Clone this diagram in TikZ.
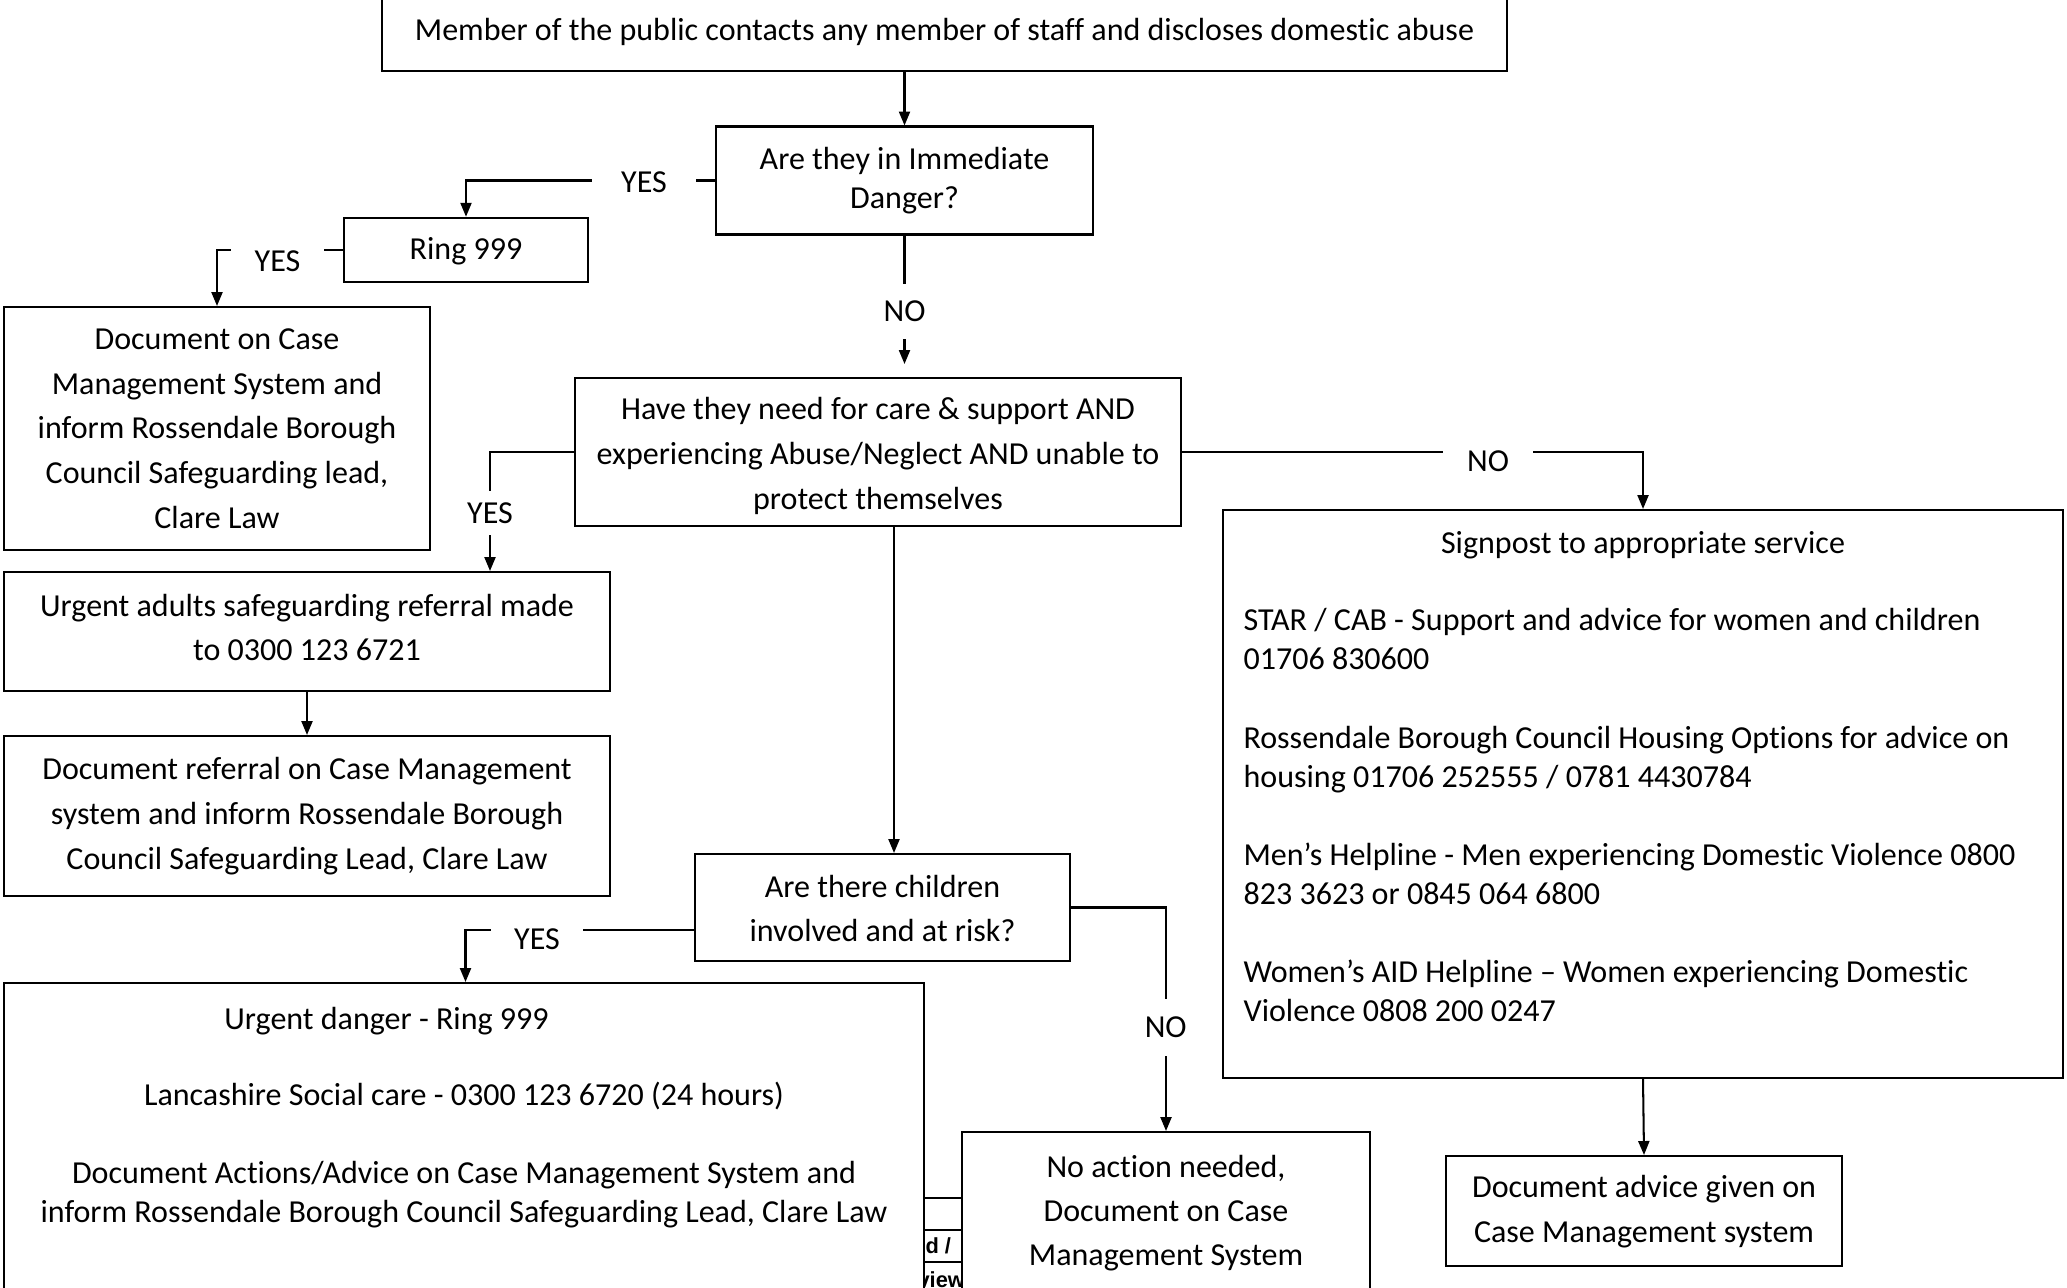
\documentclass[tikz,border=0pt]{standalone}
\usepackage{fontspec}
\setmainfont{Carlito}[Ligatures=NoCommon]
\newfontfamily\tablefont{Liberation Sans}
\usetikzlibrary{arrows.meta,calc}
\newlength\pxl
\setlength\pxl{0.3435pt}

\tikzset{
  box/.style={draw, line width=0.7pt, fill=white, inner sep=0pt},
  boxtxt/.style={inner sep=0pt, align=center, font=\fontsize{11}{15.35}\selectfont},
  txt/.style={inner sep=0pt, font=\fontsize{11}{13.43}\selectfont},
  wtxt/.style={inner sep=0pt, font=\fontsize{11}{15.2}\selectfont},
  conn/.style={line width=0.7pt, -{Triangle[length=4.8pt,width=3.8pt]}},
  lbl/.style={fill=white, inner sep=0pt, font=\fontsize{11}{13}\selectfont},
  gridline/.style={line width=0.5pt},
  fragtext/.style={inner sep=0pt, anchor=west, font=\tablefont\bfseries\fontsize{7.5}{9}\selectfont}
}

\begin{document}
\begin{tikzpicture}[x=0.3435pt, y=-0.3435pt]
\useasboundingbox (0,0) rectangle (2067,1287);
\clip (0,0) rectangle (2067,1287);

% pieces of an underlying table, mostly hidden by the boxes
\draw[gridline] (900,1198) -- (990,1198);
\draw[gridline] (900,1230) -- (990,1230);
\draw[gridline] (900,1262) -- (990,1262);
\node[fragtext] (fragA) at (925,1246) {d /};
\node[fragtext] (fragB) at (917,1280) {view};

% boxes
\node[box, minimum width=1125\pxl, minimum height=84\pxl] (top) at (944.5,29) {};
\node[box, minimum width=377\pxl, minimum height=108\pxl] (q1) at (904.5,180.5) {};
\node[box, minimum width=244\pxl, minimum height=64.5\pxl] (ring) at (466,250) {};
\node[box, minimum width=426\pxl, minimum height=243\pxl] (doc1) at (217,428.5) {};
\node[box, minimum width=606\pxl, minimum height=148\pxl] (q2) at (878,452) {};
\node[box, minimum width=606\pxl, minimum height=119\pxl] (urg) at (307,631.5) {};
\node[box, minimum width=606\pxl, minimum height=160\pxl] (docref) at (307,816) {};
\node[box, minimum width=375\pxl, minimum height=107\pxl] (q3) at (882.5,907.5) {};
\node[box, minimum width=920\pxl, minimum height=337\pxl] (big) at (464,1151.5) {};
\node[box, minimum width=408\pxl, minimum height=188\pxl] (noact) at (1166,1226) {};
\node[box, minimum width=840\pxl, minimum height=568\pxl] (sign) at (1643,794) {};
\node[box, minimum width=396\pxl, minimum height=109.5\pxl] (docadv) at (1644,1210.75) {};

% box texts
\node[boxtxt] (topt) at ($(top)+(0,3)$)
  {Member of the public contacts any member of staff and discloses domestic abuse};
\node[txt, align=center] (q1t) at (q1) {Are they in Immediate\\Danger?};
\node[boxtxt] (ringt) at ($(ring)+(0,1)$) {Ring 999};
\node[boxtxt] (doc1t) at (doc1)
  {Document on Case\\Management System and\\inform Rossendale Borough\\Council Safeguarding lead,\\Clare Law};
\node[boxtxt] (q2t) at ($(q2)+(0,4)$)
  {Have they need for care \& support AND\\experiencing Abuse/Neglect AND unable to\\protect themselves};
\node[boxtxt] (urgt) at ($(urg)+(0,-4)$)
  {Urgent adults safeguarding referral made\\to 0300 123 6721};
\node[boxtxt] (docreft) at (docref)
  {Document referral on Case Management\\system and inform Rossendale Borough\\Council Safeguarding Lead, Clare Law};
\node[boxtxt] (q3t) at ($(q3)+(0,1)$) {Are there children\\involved and at risk?};
\node[boxtxt] (docadvt) at ($(docadv)+(0,1)$) {Document advice given on\\Case Management system};

\node[txt] (bighead) at (386.5,1021) {Urgent danger - Ring 999};
\node[txt, align=center] (bigbody) at (464,1156)
  {\strut Lancashire Social care - 0300 123 6720 (24 hours)\\[13.43pt]
   Document Actions/Advice on Case Management System and\\
   inform Rossendale Borough Council Safeguarding Lead, Clare Law\strut};
\node[wtxt, align=center] (noacttext) at (1166,1212.5)
  {\strut No action needed,\\Document on Case\\Management System\strut};
\node[txt] (signhead) at (1643,545) {Signpost to appropriate service};
\node[txt, align=left, anchor=west] (signbody) at (1243,818.5)
  {\strut STAR / CAB - Support and advice for women and children\\
   01706 830600\\[13.43pt]
   Rossendale Borough Council Housing Options for advice on\\
   housing 01706 252555 / 0781 4430784\\[13.43pt]
   Men’s Helpline - Men experiencing Domestic Violence 0800\\
   823 3623 or 0845 064 6800\\[13.43pt]
   Women’s AID Helpline – Women experiencing Domestic\\
   Violence 0808 200 0247\strut};

% bend points of the connectors
\coordinate (yx) at (490,0);
\coordinate (vx) at (894,0);
\coordinate (q3y) at (0,930);
\coordinate (bx) at (465.5,0);

% connectors
\draw[conn] (q1.north |- top.south) -- (q1.north);
\draw[conn] (q1.west) -| (ring.north);
\draw[conn] (ring.west) -| (doc1.north);
\draw[conn, shorten >=13\pxl] (q1.south) -- (q1.south |- q2.north);
\draw[conn] (q2.west) -| (urg.north -| yx);
\draw[conn] (urg.south) -- (docref.north);
\draw[conn] (q2.south -| vx) -- (q3.north -| vx);
\draw[conn] (q2.east) -| (sign.north);
\draw[conn] (q3.west |- q3y) -| (big.north -| bx);
\draw[conn] (q3.east) -| (noact.north);
\draw[conn] (sign.south) -- (docadv.north);

% answer labels
\node[lbl, minimum width=104\pxl] (yes1) at (644,182) {YES};
\node[lbl, minimum width=93\pxl, minimum height=26\pxl] (yes2) at (277.5,261) {YES};
\node[lbl, minimum height=55\pxl] (no1) at (904.5,311) {NO};
\node[lbl, minimum height=44\pxl] (yes3) at (490,513) {YES};
\node[lbl, minimum width=90\pxl, minimum height=30\pxl] (no2) at (1488,461) {NO};
\node[lbl, minimum width=92\pxl, minimum height=26\pxl] (yes4) at (537,939) {YES};
\node[lbl, minimum height=57\pxl] (no3) at (1165.7,1027) {NO};
\end{tikzpicture}
\end{document}
